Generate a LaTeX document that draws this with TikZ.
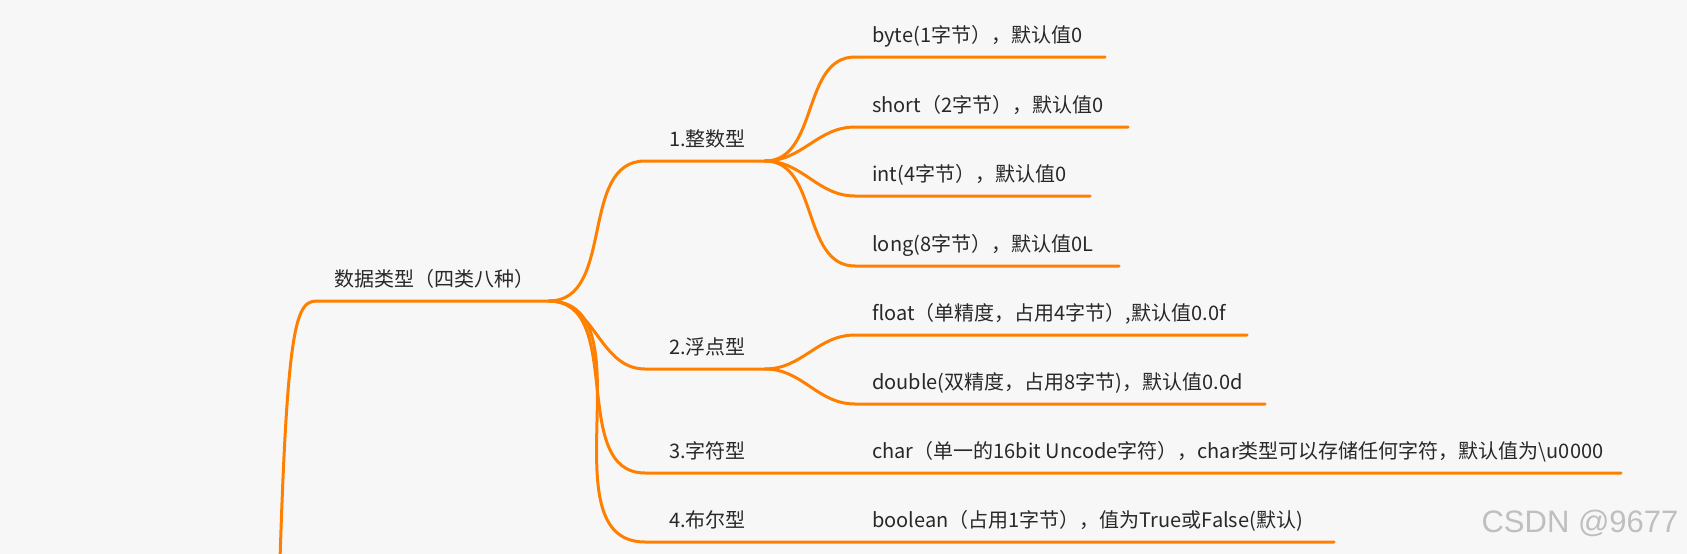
\documentclass[tikz,border=0pt]{standalone}
\usepackage{fontspec}
\usepackage{xcolor}
\newfontfamily\cjk{Noto Sans CJK SC}
\newfontfamily\wmfont{Liberation Sans}
\definecolor{branchorange}{RGB}{255,128,0}
\definecolor{textgray}{RGB}{40,40,40}
\definecolor{bggray}{RGB}{247,247,247}
\tikzset{
	branch/.style={draw=branchorange, line width=3pt, line cap=round},
	topic/.style={anchor=base west, inner sep=0pt, text=textgray, font=\cjk\fontsize{20}{20}\selectfont}
}

\begin{document}
\begin{tikzpicture}[x=1pt, y=-1pt]
	\useasboundingbox (0, 0) rectangle (1687, 554);
	\fill[bggray] (0, 0) rectangle (1687, 554);
	\clip (0, 0) rectangle (1687, 554);
	\coordinate (lj) at (275, 760);
	\coordinate (dt-l) at (317, 301);
	\coordinate (dt-r) at (549, 301);
	\coordinate (zs-l) at (645, 161);
	\coordinate (zs-r) at (765, 161);
	\coordinate (fd-l) at (645, 369);
	\coordinate (fd-r) at (765, 369);
	\coordinate (zf-l) at (645, 473);
	\coordinate (zf-r) at (1621, 473);
	\coordinate (be-l) at (645, 542);
	\coordinate (be-r) at (1334, 542);
	\coordinate (byte-l) at (855, 57);
	\coordinate (byte-r) at (1105, 57);
	\coordinate (short-l) at (855, 127);
	\coordinate (short-r) at (1128, 127);
	\coordinate (int-l) at (855, 196);
	\coordinate (int-r) at (1090, 196);
	\coordinate (long-l) at (855, 266);
	\coordinate (long-r) at (1119, 266);
	\coordinate (float-l) at (855, 335);
	\coordinate (float-r) at (1247, 335);
	\coordinate (double-l) at (855, 404);
	\coordinate (double-r) at (1265, 404);

	\draw[branch] (lj) .. controls (284, 330) and (292, 301) .. (dt-l) -- (dt-r);
	\draw[branch] (dt-r) to[out=0, in=180] (zs-l) -- (zs-r);
	\draw[branch] (dt-r) to[out=0, in=180] (fd-l) -- (fd-r);
	\draw[branch] (dt-r) to[out=0, in=180] (zf-l) -- (zf-r);
	\draw[branch] (dt-r) to[out=0, in=180] (be-l) -- (be-r);
	\draw[branch] (zs-r) to[out=0, in=180] (byte-l) -- (byte-r);
	\draw[branch] (zs-r) to[out=0, in=180] (short-l) -- (short-r);
	\draw[branch] (zs-r) to[out=0, in=180] (int-l) -- (int-r);
	\draw[branch] (zs-r) to[out=0, in=180] (long-l) -- (long-r);
	\draw[branch] (fd-r) to[out=0, in=180] (float-l) -- (float-r);
	\draw[branch] (fd-r) to[out=0, in=180] (double-l) -- (double-r);

	\node[topic] (dt) at (334, 286) {数据类型（四类八种）};
	\node[topic] (zs) at (669, 146) {1.整数型};
	\node[topic] (fd) at (669, 354) {2.浮点型};
	\node[topic] (zf) at (669, 458) {3.字符型};
	\node[topic] (be) at (669, 527) {4.布尔型};
	\node[topic] (byte) at (872, 42) {byte(1字节），默认值0};
	\node[topic] (short) at (872, 112) {short（2字节），默认值0};
	\node[topic] (int) at (872, 181) {int(4字节），默认值0};
	\node[topic] (long) at (872, 251) {long(8字节），默认值0L};
	\node[topic] (float) at (872, 320) {float（单精度，占用4字节）,默认值0.0f};
	\node[topic] (double) at (872, 389) {double(双精度，占用8字节)，默认值0.0d};
	\node[topic] (char) at (872, 458) {char（单一的16bit Uncode字符），char类型可以存储任何字符，默认值为\textbackslash u0000};
	\node[topic] (boolean) at (872, 527) {boolean（占用1字节），值为True或False(默认)};
	\node[anchor=east, text=black!25, font=\wmfont\fontsize{31}{31}\selectfont] (wm) at (1682, 523) {CSDN @9677};
\end{tikzpicture}
\end{document}
